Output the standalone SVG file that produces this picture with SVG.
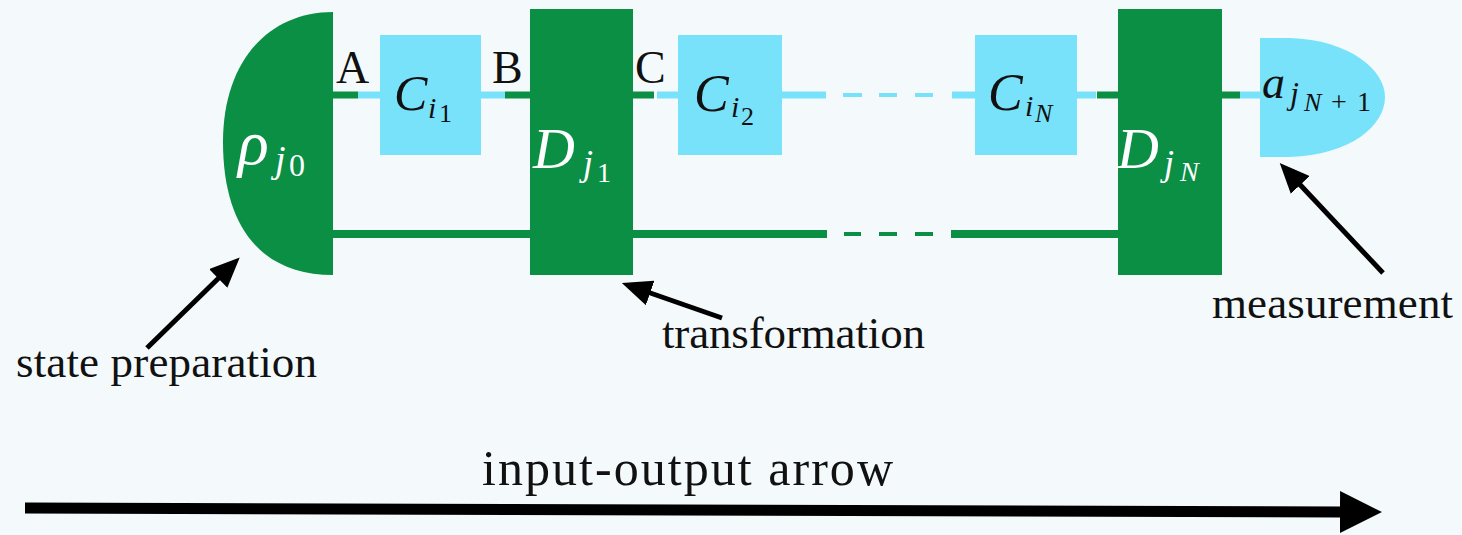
<svg xmlns="http://www.w3.org/2000/svg" width="1462" height="535" viewBox="0 0 1462 535">
  <style>
    .g { fill: #0b8f45; }
    .c { fill: #78e2fb; }
    .wg { stroke: #0b8f45; stroke-width: 7; fill: none; }
    .wc { stroke: #78e2fb; stroke-width: 7; fill: none; }
    .dg { stroke: #0b8f45; stroke-width: 4; fill: none; }
    .dc { stroke: #78e2fb; stroke-width: 4; fill: none; }
    .m { font-family: "Liberation Serif", "DejaVu Serif", serif; font-style: italic; }
    .up { font-family: "Liberation Serif", "DejaVu Serif", serif; font-style: normal; }
    .wt { fill: #ffffff; }
    .bk { fill: #111111; }
    .lbl { font-family: "Liberation Serif", "DejaVu Serif", serif; fill: #111111; font-size: 45px; }
    .arr { stroke: #000000; stroke-width: 5; fill: none; }
  </style>
  <defs>
    <marker id="head" markerUnits="userSpaceOnUse" markerWidth="30" markerHeight="26" refX="15" refY="13" orient="auto">
      <path d="M0,0 L30,13 L0,26 z" fill="#000000"/>
    </marker>
    <marker id="bighead" markerUnits="userSpaceOnUse" markerWidth="42" markerHeight="42" refX="2" refY="21" orient="auto">
      <path d="M0,0 L42,21 L0,42 z" fill="#000000"/>
    </marker>
  </defs>
  <rect x="0" y="0" width="1462" height="535" fill="#f4fafc"/>

  <g id="connectors">
    <line class="wg" x1="333" y1="95" x2="358" y2="95"/>
    <line class="wc" x1="358" y1="95" x2="381" y2="95"/>
    <line class="wc" x1="480" y1="95" x2="505" y2="95"/>
    <line class="wg" x1="505" y1="95" x2="531" y2="95"/>
    <line class="wg" x1="632" y1="95" x2="654" y2="95"/>
    <line class="wc" x1="657" y1="95" x2="679" y2="95"/>
    <line class="wc" x1="781" y1="95" x2="826" y2="95"/>
    <line class="dc" x1="843" y1="95" x2="862" y2="95"/>
    <line class="dc" x1="879" y1="95" x2="897" y2="95"/>
    <line class="dc" x1="915" y1="95" x2="933" y2="95"/>
    <line class="wc" x1="952" y1="95" x2="976" y2="95"/>
    <line class="wc" x1="1076" y1="95" x2="1096" y2="95"/>
    <line class="wg" x1="1097" y1="95" x2="1119" y2="95"/>
    <line class="wg" x1="1221" y1="95" x2="1240" y2="95"/>
    <line class="wc" x1="1240" y1="95" x2="1261" y2="95"/>
    <line class="wg" style="stroke-width:8" x1="333" y1="234" x2="531" y2="234"/>
    <line class="wg" style="stroke-width:8" x1="632" y1="234" x2="827" y2="234"/>
    <line class="dg" x1="844" y1="234" x2="861" y2="234"/>
    <line class="dg" x1="879" y1="234" x2="897" y2="234"/>
    <line class="dg" x1="915" y1="234" x2="933" y2="234"/>
    <line class="wg" style="stroke-width:8" x1="951" y1="234" x2="1119" y2="234"/>
  </g>

  <g id="rho">
    <path class="g" d="M333,12 C268,12 223,62 223,142 C223,228 262,275 333,275 Z"/>
    <text class="m wt" x="238" y="164" font-size="64">ρ</text>
    <text class="m wt" x="275" y="172" font-size="38">j</text>
    <text class="up wt" x="289" y="176" font-size="32">0</text>
  </g>

  <g id="C1">
    <rect class="c" x="380" y="35" width="101" height="120"/>
    <text class="m bk" x="394" y="110" font-size="50">C</text>
    <text class="m bk" x="428" y="118" font-size="30">i</text>
    <text class="up bk" x="439" y="122" font-size="26">1</text>
  </g>

  <g id="D1">
    <rect class="g" x="530" y="9" width="103" height="266"/>
    <text class="m wt" x="533" y="168" font-size="58">D</text>
    <text class="m wt" x="583" y="175" font-size="36">j</text>
    <text class="up wt" x="597" y="182" font-size="28">1</text>
  </g>

  <g id="C2">
    <rect class="c" x="678" y="35" width="104" height="120"/>
    <text class="m bk" x="694" y="111" font-size="52">C</text>
    <text class="m bk" x="731" y="117" font-size="30">i</text>
    <text class="up bk" x="741" y="125" font-size="26">2</text>
  </g>

  <g id="CN">
    <rect class="c" x="975" y="35" width="102" height="120"/>
    <text class="m bk" x="988" y="110" font-size="52">C</text>
    <text class="m bk" x="1025" y="116" font-size="30">i</text>
    <text class="m bk" x="1035" y="122" font-size="26">N</text>
  </g>

  <g id="DN">
    <rect class="g" x="1118" y="9" width="104" height="266"/>
    <text class="m wt" x="1117" y="168" font-size="58">D</text>
    <text class="m wt" x="1164" y="175" font-size="36">j</text>
    <text class="m wt" x="1180" y="181" font-size="28">N</text>
  </g>

  <g id="measure">
    <path class="c" d="M1260,38 L1290,38 C1350,40 1385,70 1385,97 C1385,126 1350,155 1290,157 L1260,157 Z"/>
    <text class="m bk" x="1262" y="98" font-size="46">a</text>
    <text class="m bk" x="1290" y="104" font-size="32">j</text>
    <text class="m bk" x="1304" y="111" font-size="26">N</text>
    <text class="up bk" x="1331" y="111" font-size="28">+</text>
    <text class="up bk" x="1357" y="111" font-size="28">1</text>
  </g>

  <g id="labelA"><text class="up bk" x="336" y="83" font-size="46">A</text></g>
  <g id="labelB"><text class="up bk" x="492" y="83" font-size="46">B</text></g>
  <g id="labelC"><text class="up bk" x="635" y="83" font-size="46">C</text></g>

  <g id="annotations">
    <line class="arr" x1="147" y1="348" x2="229" y2="268" marker-end="url(#head)"/>
    <line class="arr" x1="722" y1="318" x2="636" y2="288" marker-end="url(#head)"/>
    <line class="arr" x1="1383" y1="273" x2="1290" y2="174" marker-end="url(#head)"/>
    <text class="lbl" x="16" y="377" textLength="301">state preparation</text>
    <text class="lbl" x="662" y="348" textLength="263">transformation</text>
    <text class="lbl" x="1212" y="318" textLength="241">measurement</text>
  </g>

  <g id="io-arrow">
    <line x1="25" y1="508" x2="1342" y2="512" stroke="#000000" stroke-width="11" marker-end="url(#bighead)"/>
    <text class="lbl" x="482" y="485" style="font-size:50px" textLength="411">input-output arrow</text>
  </g>
</svg>
